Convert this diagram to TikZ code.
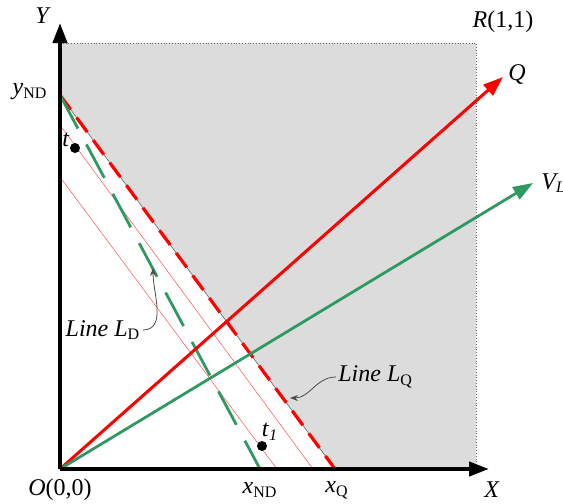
\documentclass[tikz,border=0pt]{standalone}
\usepackage{fontspec}
\setmainfont{Liberation Serif}
\usetikzlibrary{arrows.meta}
\definecolor{regiongray}{RGB}{220,220,220}
\definecolor{dgreen}{RGB}{46,153,96}

\begin{document}
\begin{tikzpicture}[x=0.5pt,y=-0.5pt,
lbl/.style={font=\fontsize{12}{14}\selectfont, inner sep=1pt},
axis/.style={line width=2pt, -{Triangle[length=10pt,width=7pt]}},
qline/.style={red, line width=1.5pt, -{Triangle[length=10pt,width=7pt]}},
vline/.style={dgreen, line width=1.4pt, -{Triangle[length=10pt,width=7pt]}},
note/.style={line width=0.4pt, black!70, -{Stealth[length=4pt,width=3pt]}},
thinred/.style={red!80, line width=0.2pt},
dot/.style={circle, fill=black, inner sep=0pt, minimum size=5pt}
]
\useasboundingbox (0,0) rectangle (563,504);
\coordinate (O) at (60,469);
\coordinate (R) at (476,43);
\coordinate (yND) at (60,95);
\coordinate (xQ) at (335,469);
\coordinate (xND) at (260,469);
\coordinate (Ytip) at (60,23);
\coordinate (Xtip) at (489,469);
\coordinate (Qtip) at (503,77);
\coordinate (Vtip) at (533,183);

\fill[regiongray] (60,43) -- (476,43) -- (476,469) -- (xQ) -- (yND) -- cycle;
\draw[black!60, line width=0.4pt, densely dotted] (60,43) -- (476,43) -- (476,469);

\draw[thinred] (60,125) -- (313,469);
\draw[thinred] (60,177) -- (277,469);
\draw[black!60, line width=0.3pt] (yND) -- (xQ);
\draw[red, line width=1.6pt, dash pattern=on 9pt off 5pt] (yND) -- (xQ);
\draw[dgreen, line width=1.4pt, dash pattern=on 19pt off 9pt] (yND) -- (xND);

\draw[qline] (O) -- (Qtip);
\draw[vline] (O) -- (Vtip);
\draw[axis] (O) -- (Ytip);
\draw[axis] (O) -- (Xtip);

\node[dot] (t) at (75,148) {};
\node[dot] (t1) at (262,446) {};

\node[lbl] (Ylab) at (43,16) {\textit{Y}};
\node[lbl] (Xlab) at (492,490) {\textit{X}};
\node[lbl] (yNDlab) at (30,92) {\textit{y}\textsubscript{ND}};
\node[lbl] (Rlab) at (503,22) {\textit{R}(1,1)};
\node[lbl] (Qlab) at (517,74) {\textit{Q}};
\node[lbl, anchor=west] (Vlab) at (539,183) {\textit{V\textsubscript{L}}};
\node[lbl] (tlab) at (66,140) {\textit{t}};
\node[lbl] (t1lab) at (270,432) {\textit{t}\textsubscript{\textit{1}}};
\node[lbl] (Olab) at (60,490) {\textit{O}(0,0)};
\node[lbl] (xNDlab) at (260,490) {\textit{x}\textsubscript{ND}};
\node[lbl] (xQlab) at (337,490) {\textit{x}\textsubscript{Q}};
\node[lbl] (LDlab) at (103,330) {\textit{Line L}\textsubscript{D}};
\node[lbl, anchor=west] (LQlab) at (336,377) {\textit{Line L}\textsubscript{Q}};

\coordinate (LDtip) at (153,268);
\coordinate (LQtip) at (290,398);
\draw[note] (LDlab.east) to[out=0,in=-90] (LDtip);
\draw[note] (LQlab.west) to[out=180,in=0] (LQtip);
\end{tikzpicture}
\end{document}
